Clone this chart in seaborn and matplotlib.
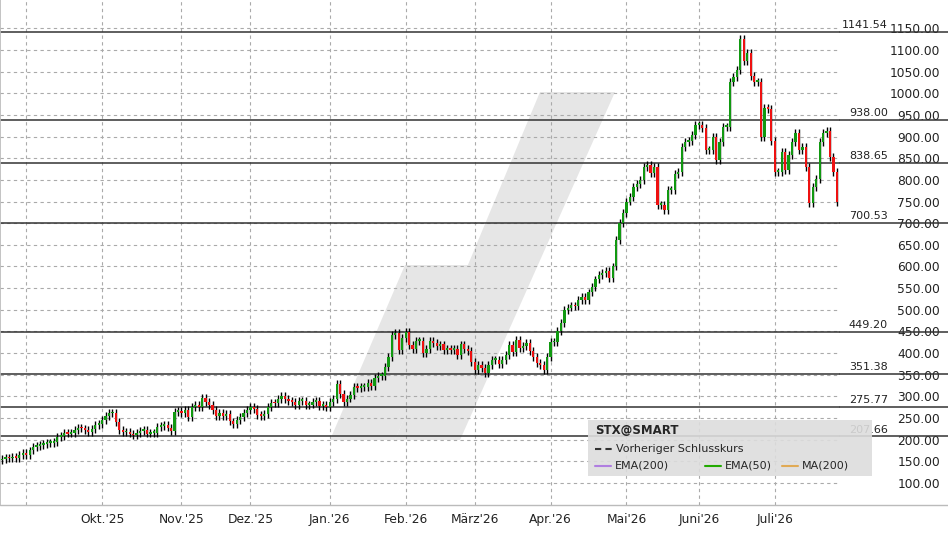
import numpy as np
import pandas as pd
import matplotlib
matplotlib.use("Agg")
import matplotlib.pyplot as plt
from matplotlib.patches import Polygon, Rectangle
import seaborn as sns

start_date = "2025-08-21"
closes = [155,158,157,160,158,
          165,169,165,175,
          183,186,188,190,192,193,
          195,206,208,215,214,216,
          222,227,226,222,218,225,234,236,
          245,255,261,262,
          240,222,217,217,214,
          210,216,220,222,214,215,215,
          230,232,234,228,220,
          264,267,262,268,253,275,280,275,
          296,287,280,268,255,261,255,260,242,236,245,
          253,261,268,275,271,257,255,
          260,275,285,284,294,300,
          294,289,287,280,289,289,280,281,287,289,278,280,
          275,287,294,329,306,287,295,304,
          322,320,322,322,331,324,342,347,347,
          368,391,441,446,407,435,449,418,409,428,428,
          400,409,428,424,416,420,407,410,407,409,395,
          420,409,405,380,361,372,366,354,372,384,384,375,384,
          395,418,402,430,412,416,423,405,390,377,372,361,
          391,425,425,451,469,
          500,505,510,508,522,530,523,540,553,570,
          580,585,590,573,600,661,700,723,750,760,
          784,790,800,830,835,816,830,742,742,730,
          777,777,814,818,876,888,890,904,927,927,
          920,869,869,899,846,887,923,923,1026,1038,
          1054,1125,1075,1093,1040,1026,1026,899,966,964,890,
          818,818,864,822,857,887,908,869,876,830,
          747,784,802,888,908,913,853,818,749]
first_open = 152
levels = [1141.54, 938.00, 838.65, 700.53, 449.20, 351.38, 275.77, 207.66]
yticks = list(range(100, 1151, 50))
month_names = {1: "Jan.", 2: "Feb.", 3: "März", 4: "Apr.", 5: "Mai", 6: "Juni", 7: "Juli",
               8: "Aug.", 9: "Sep.", 10: "Okt.", 11: "Nov.", 12: "Dez."}

sns.set_theme(style="white")
plt.rcParams['font.family'] = ['DejaVu Sans']

dates = pd.bdate_range(start_date, periods=len(closes))
df = pd.DataFrame({"date": dates, "close": closes})
df["open"] = [first_open] + closes[:-1]
df["idx"] = np.arange(len(df))
df["top"] = df[["open", "close"]].max(axis=1)
df["bot"] = df[["open", "close"]].min(axis=1)
df["up"] = df["close"] >= df["open"]

W, H = 948, 534
fig = plt.figure(figsize=(W/100, H/100), dpi=100)
ax = fig.add_axes([0, (534-505)/534, 840/948, 505/534])

wm = "#e6e6e6"
def px(xp, yp):
    return ((xp)/840, (505-yp)/505)
ax.add_patch(Polygon([px(330, 440), px(395, 440), px(470, 265), px(405, 265)], closed=True,
                     transform=ax.transAxes, color=wm, zorder=0, lw=0))
ax.add_patch(Polygon([px(395, 440), px(460, 440), px(615, 92), px(540, 92)], closed=True,
                     transform=ax.transAxes, color=wm, zorder=0, lw=0))

for t in yticks:
    ax.axhline(t, color="#aaaaaa", ls=(0, (3, 3)), lw=0.8, zorder=1)
month_starts = df.groupby([df.date.dt.year, df.date.dt.month])["idx"].min()
mlabels = []
for (yr, mo), i in month_starts.items():
    if i == 0:
        continue
    ax.axvline(i, color="#aaaaaa", ls=(0, (3, 3)), lw=0.8, zorder=1)
    lab = f"{month_names[mo]}'{str(yr)[2:]}" if mo != 9 else ""
    mlabels.append((i, lab))
ax.set_xticks([m[0] for m in mlabels])
ax.set_xticklabels([m[1] for m in mlabels], fontsize=8.8, color="#222222")

for lv in levels:
    ax.axhline(lv, color="#333333", lw=1.1, zorder=2)
    ax.plot([1, 948/840], [lv, lv], transform=ax.get_yaxis_transform(), color="#333333",
            lw=1.1, clip_on=False)
    ax.text(888/840, lv + 4, f"{lv:.2f}", transform=ax.get_yaxis_transform(), ha="right",
            va="bottom", fontsize=8, color="#222222")

pad = 9
ax.vlines(df["idx"], df["bot"] - pad, df["top"] + pad, color="black", lw=1, zorder=3)
for _, r in df.iterrows():
    col = "#119911" if r.up else "#ee1111"
    h = max(r.top - r.bot, 4)
    ax.add_patch(Rectangle((r.idx - 0.33, r.bot), 0.66, h, color=col, zorder=4, lw=0))

ax.set_xlim(-0.6, 242.9)
ax.set_ylim(49.1, 1215.4)
ax.yaxis.tick_right()
ax.set_yticks(yticks)
ax.set_yticklabels([f"{t:.2f}" for t in yticks], fontsize=8.8, color="#222222")
ax.tick_params(axis="y", length=0, pad=72)
for l in ax.get_yticklabels():
    l.set_ha("right")
ax.tick_params(axis="x", length=0, pad=6)
for s in ["top", "right", "bottom"]:
    ax.spines[s].set_visible(False)
ax.spines["left"].set_color("#bbbbbb")
fig.add_artist(plt.Line2D([0, 1], [(534-505)/534]*2, color="#bbbbbb", lw=1))

lx0, ly0, lx1, ly1 = 588, 420, 872, 476
fig.add_artist(Rectangle((lx0/W, 1-ly1/H), (lx1-lx0)/W, (ly1-ly0)/H, color="#dddddd",
                         alpha=0.9, zorder=5, lw=0))
fig.text(595/W, 1-430/H, "STX@SMART", fontsize=8.5, weight="bold", va="center", zorder=6)
fig.add_artist(plt.Line2D([595/W, 612/W], [1-449/H]*2, color="#333333", ls=(0, (3, 2)), lw=1.5, zorder=6))
fig.text(616/W, 1-449/H, "Vorheriger Schlusskurs", fontsize=8, va="center", zorder=6)
items = [(595, "#b07ee0", "EMA(200)"), (705, "#22aa00", "EMA(50)"), (782, "#e0aa55", "MA(200)")]
for x0, c, t in items:
    fig.add_artist(plt.Line2D([x0/W, (x0+16)/W], [1-466/H]*2, color=c, lw=1.5, zorder=6))
    fig.text((x0+20)/W, 1-466/H, t, fontsize=8, va="center", zorder=6)

fig.savefig("out.png", dpi=100, facecolor="white")
